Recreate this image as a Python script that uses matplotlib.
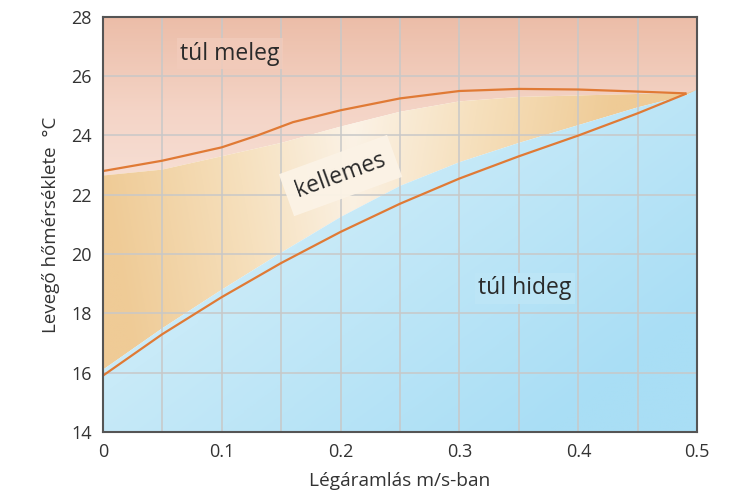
import numpy as np
import matplotlib.pyplot as plt
from matplotlib.colors import LinearSegmentedColormap
from matplotlib.patches import Polygon

plt.rcParams['font.family'] = ['Open Sans', 'DejaVu Sans']

# upper comfort limit (line)
x_up = [0, 0.05, 0.1, 0.13, 0.16, 0.2, 0.25, 0.3, 0.35, 0.4, 0.45, 0.49]
y_up = [22.8, 23.15, 23.6, 24.0, 24.45, 24.85, 25.25, 25.5, 25.57, 25.55, 25.48, 25.42]

# lower comfort limit (line)
x_lo = [0, 0.05, 0.1, 0.15, 0.2, 0.25, 0.3, 0.35, 0.4, 0.45, 0.49]
y_lo = [15.9, 17.3, 18.55, 19.7, 20.75, 21.7, 22.55, 23.3, 24.0, 24.75, 25.4]

# edges of the coloured areas
x_warm = [0, 0.05, 0.1, 0.15, 0.2, 0.25, 0.3, 0.35, 0.4, 0.45, 0.49]
y_warm = [22.65, 22.85, 23.3, 23.75, 24.3, 24.8, 25.15, 25.3, 25.35, 25.4, 25.42]
x_cold = [0, 0.05, 0.1, 0.15, 0.2, 0.25, 0.3, 0.35, 0.4, 0.45, 0.49, 0.5]
y_cold = [16.1, 17.5, 18.8, 20.05, 21.25, 22.3, 23.1, 23.75, 24.35, 24.95, 25.35, 25.55]

xmin, xmax, ymin, ymax = 0, 0.5, 14, 28

fig = plt.figure(figsize=(7.34, 4.95), dpi=100)
ax = fig.add_axes([0.140, 0.127, 0.810, 0.839])
ax.set_xlim(xmin, xmax)
ax.set_ylim(ymin, ymax)


def grad_fill(poly_xy, img, cmap):
    patch = Polygon(poly_xy, closed=True, facecolor='none', edgecolor='none')
    ax.add_patch(patch)
    im = ax.imshow(img, extent=[xmin, xmax, ymin, ymax], origin='lower',
                   cmap=cmap, aspect='auto', interpolation='bilinear', zorder=0)
    im.set_clip_path(patch)


gx, gy = np.meshgrid(np.linspace(0, 1, 200), np.linspace(0, 1, 200))

# too warm: pink, darker at the top
warm_cmap = LinearSegmentedColormap.from_list('w', ['#f8e2d9', '#f4d4c6', '#ecbda8'])
warm_poly = list(zip(x_warm, y_warm)) + [(0.5, 25.45), (0.5, ymax), (0, ymax)]
grad_fill(warm_poly, np.clip((gy - 0.55) / 0.45, 0, 1), warm_cmap)

# comfortable: orange at the sides, light in the middle
mid_cmap = LinearSegmentedColormap.from_list('m', ['#fcf5ec', '#f6e0bd', '#efcb96'])
mid_img = np.clip(np.abs(gx - 0.42) / 0.42 * 0.9 + (1 - gy) * 0.25, 0, 1)
mid_poly = list(zip(x_warm, y_warm)) + list(zip(x_cold[::-1], y_cold[::-1]))
grad_fill(mid_poly, mid_img, mid_cmap)

# too cold: light blue
cold_cmap = LinearSegmentedColormap.from_list('c', ['#ddf3fc', '#c8eaf8', '#a9def5'])
cold_poly = list(zip(x_cold, y_cold)) + [(0.5, ymin), (0, ymin)]
grad_fill(cold_poly, np.clip(gx * 0.6 + (1 - gy) * 0.55, 0, 1), cold_cmap)

ax.plot(x_up, y_up, color='#e07a35', lw=1.6, zorder=3)
ax.plot(x_lo, y_lo, color='#e07a35', lw=1.6, zorder=3)

ax.set_xticks(np.arange(0, 0.51, 0.05))
ax.set_yticks(np.arange(14, 28.1, 2))
ax.grid(True, color='#c8c8c8', lw=1.1)
for gl in ax.get_xgridlines() + ax.get_ygridlines():
    gl.set_zorder(1)

xlabels = ['0', '', '0.1', '', '0.2', '', '0.3', '', '0.4', '', '0.5']
ax.set_xticklabels(xlabels)
ax.tick_params(length=0, labelsize=13, colors='#333333', pad=8)
for s in ax.spines.values():
    s.set_color('#555555')
    s.set_linewidth(1.5)
    s.set_zorder(5)

ax.set_xlabel('Légáramlás m/s-ban', fontsize=13.8, color='#333333', labelpad=8)
ax.set_ylabel('Levegő hőmérséklete  °C', fontsize=13.5, color='#333333', labelpad=8)

ax.text(0.107, 26.75, 'túl meleg', fontsize=16.5, color='#2a2a2a', ha='center', va='center',
        zorder=4, bbox=dict(boxstyle='square,pad=0.15', fc='#f2cbbb', ec='none', alpha=0.8))
ax.text(0.2, 22.65, 'kellemes', fontsize=16.5, color='#2a2a2a', ha='center', va='center',
        rotation=20, zorder=4,
        bbox=dict(boxstyle='square,pad=0.45', fc='#fcf3e6', ec='none', alpha=0.95))
ax.text(0.355, 18.85, 'túl hideg', fontsize=16.5, color='#2a2a2a', ha='center', va='center',
        zorder=4, bbox=dict(boxstyle='square,pad=0.15', fc='#bde6f6', ec='none', alpha=0.9))

fig.savefig('out.png', dpi=100)
